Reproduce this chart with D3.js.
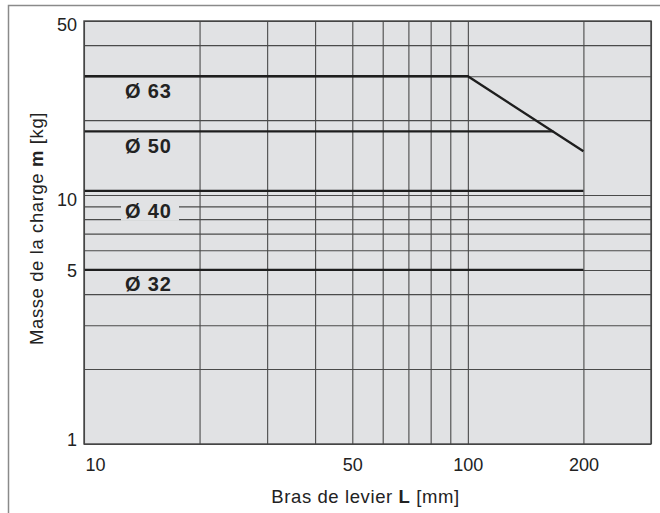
<!DOCTYPE html>
<html>
<head>
<meta charset="utf-8">
<script src="https://cdn.jsdelivr.net/npm/d3@7"></script>
<style>
  body { margin: 0; background: #fff; }
  svg { display: block; font-family: Arial, "Liberation Sans", sans-serif; }
</style>
</head>
<body>
<svg id="chart"></svg>
<script>
// values
const bores = ["Ø 63", "Ø 50", "Ø 40", "Ø 32"];
const leverArm = [[10, 100, 200], [10, 167], [10, 200], [10, 200]];   // L [mm]
const loadMass = [[30, 30, 15], [18, 18], [10.4, 10.4], [5, 5]];     // m [kg]

const xGrid = [10, 20, 30, 40, 50, 60, 70, 80, 90, 100, 200, 300];
const yGrid = [1, 2, 3, 4, 5, 6, 7, 8, 9, 10, 20, 30, 40, 50];
const xTickLabels = [10, 50, 100, 200];
const yTickLabels = [1, 5, 10, 50];

const svgWidth = 660;
const svgHeight = 513;
const plotLeft = 84, plotRight = 651, plotTop = 21, plotBottom = 444;

const svg = d3.select("#chart")
  .attr("width", svgWidth)
  .attr("height", svgHeight);

// outer frame (top and left edge of the picture)
svg.append("path")
  .attr("d", `M8.5,${svgHeight} V5.5 H${svgWidth}`)
  .attr("fill", "none")
  .attr("stroke", "#8a8a8a")
  .attr("stroke-width", 1.5);

const xScale = d3.scaleLog().domain([10, 300]).range([plotLeft, plotRight]);
const yScale = d3.scaleLog().domain([1, 50]).range([plotBottom, plotTop]);

// plot background
svg.append("rect")
  .attr("x", plotLeft).attr("y", plotTop)
  .attr("width", plotRight - plotLeft).attr("height", plotBottom - plotTop)
  .attr("fill", "#e1e2e4");

// grid lines
const xGridAxis = d3.axisBottom(xScale).tickValues(xGrid).tickSize(-(plotBottom - plotTop)).tickFormat("");
svg.append("g").attr("class", "grid")
  .attr("transform", `translate(0, ${plotBottom})`)
  .call(xGridAxis);

const yGridAxis = d3.axisLeft(yScale).tickValues(yGrid).tickSize(-(plotRight - plotLeft)).tickFormat("");
svg.append("g").attr("class", "grid")
  .attr("transform", `translate(${plotLeft}, 0)`)
  .call(yGridAxis);

svg.selectAll(".grid .domain").remove();
svg.selectAll(".grid line")
  .attr("stroke", "#4a4a4a")
  .attr("stroke-width", 1.1);

// tick labels
const xAxis = d3.axisBottom(xScale).tickValues(xTickLabels).tickSize(0).tickPadding(14).tickFormat(d3.format("d"));
const gx = svg.append("g")
  .attr("transform", `translate(0, ${plotBottom})`)
  .call(xAxis);
gx.select(".domain").remove();
gx.selectAll("text")
  .attr("font-size", 18)
  .attr("font-family", "Arial, 'Liberation Sans', sans-serif")
  .attr("fill", "#222")
  .attr("text-anchor", d => d === 10 ? "start" : "middle")
  .attr("dx", d => d === 10 ? 1 : 0);

const yAxis = d3.axisLeft(yScale).tickValues(yTickLabels).tickSize(0).tickPadding(7).tickFormat(d3.format("d"));
const gy = svg.append("g")
  .attr("transform", `translate(${plotLeft}, 0)`)
  .call(yAxis);
gy.select(".domain").remove();
gy.selectAll("text")
  .attr("font-size", 18)
  .attr("font-family", "Arial, 'Liberation Sans', sans-serif")
  .attr("fill", "#222")
  .attr("dy", d => d === 10 ? "0.6em" : d === 1 ? "0.1em" : d === 50 ? "0.5em" : "0.35em");

// bore labels with a background patch hiding grid lines
const labelDy = [22, 22, 27, 21];
const labels = svg.append("g");
bores.forEach((name, i) => {
  const yBase = yScale(loadMass[i][0]) + labelDy[i];
  labels.append("rect")
    .attr("x", 121).attr("y", yBase - 16)
    .attr("width", 58).attr("height", 19)
    .attr("fill", "#e1e2e4");
  labels.append("text")
    .attr("x", 125).attr("y", yBase)
    .attr("font-size", 20)
    .attr("font-weight", "bold")
    .attr("letter-spacing", 0.8)
    .attr("fill", "#222")
    .text(name);
});

// load curves
const line = d3.line()
  .x(d => xScale(d[0]))
  .y(d => yScale(d[1]));

bores.forEach((name, i) => {
  const pts = leverArm[i].map((l, j) => [l, loadMass[i][j]]);
  svg.append("path")
    .datum(pts)
    .attr("d", line)
    .attr("fill", "none")
    .attr("stroke", "#1e1e1e")
    .attr("stroke-width", 2.3);
});

// plot border
svg.append("rect")
  .attr("x", plotLeft).attr("y", plotTop)
  .attr("width", plotRight - plotLeft).attr("height", plotBottom - plotTop)
  .attr("fill", "none")
  .attr("stroke", "#444")
  .attr("stroke-width", 1.4);

// axis titles
const xTitle = svg.append("text")
  .attr("x", (plotLeft + plotRight) / 2 - 2).attr("y", 503)
  .attr("text-anchor", "middle")
  .attr("font-size", 18.5)
  .attr("letter-spacing", 0.6)
  .attr("fill", "#222");
xTitle.append("tspan").text("Bras de levier ");
xTitle.append("tspan").attr("font-weight", "bold").text("L");
xTitle.append("tspan").text(" [mm]");

const yTitle = svg.append("text")
  .attr("transform", `translate(43, ${(plotTop + plotBottom) / 2 - 4}) rotate(-90)`)
  .attr("text-anchor", "middle")
  .attr("font-size", 18.5)
  .attr("letter-spacing", 0.6)
  .attr("fill", "#222");
yTitle.append("tspan").text("Masse de la charge ");
yTitle.append("tspan").attr("font-weight", "bold").text("m");
yTitle.append("tspan").text(" [kg]");
</script>
</body>
</html>
